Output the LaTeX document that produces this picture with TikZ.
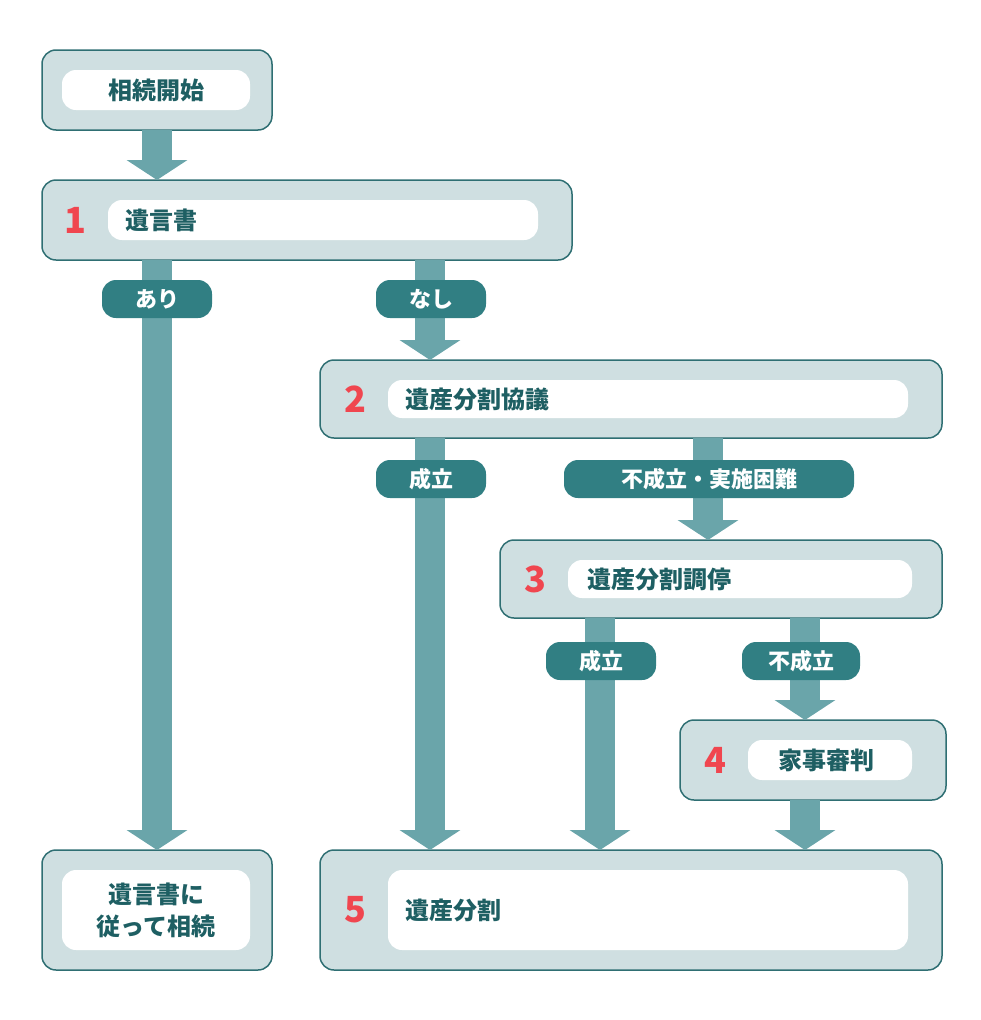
\documentclass[tikz,border=0pt]{standalone}
\usepackage{fontspec}
\setmainfont{Noto Sans CJK JP}
\usetikzlibrary{arrows.meta}
\definecolor{boxfill}{HTML}{CFDFE1}
\definecolor{boxline}{HTML}{2F6F73}
\definecolor{flow}{HTML}{6AA5AA}
\definecolor{tagfill}{HTML}{317F83}
\definecolor{txt}{HTML}{1E5F63}
\definecolor{num}{HTML}{F0464F}
\tikzset{
  box/.style={draw=boxline,line width=1.5pt,fill=boxfill,rounded corners=14pt},
  pill/.style={fill=white,rounded corners=14pt},
  word/.style={text=txt,font=\fontsize{24}{32}\selectfont\bfseries,align=center},
  stepno/.style={text=num,font=\fontsize{36}{36}\selectfont\bfseries},
  tag/.style={fill=tagfill,text=white,rounded corners=14pt,minimum height=38pt,
    font=\fontsize{22}{22}\selectfont\bfseries,inner xsep=14pt},
  flow/.style={draw=flow,line width=30pt,-{Triangle[width=60pt,length=20pt]}}
}
\begin{document}
\begin{tikzpicture}[x=1pt,y=-1pt]
   \useasboundingbox (0,0) rectangle (980,1020);
   % boxes
   \draw[box] (42,50) rectangle (272,130);
   \fill[pill] (62,70) rectangle (250,110);
   \node[word] (start) at (156,90) {相続開始};
   \draw[box] (42,180) rectangle (572,260);
   \fill[pill] (108,200) rectangle (538,240);
   \node[stepno] (n1) at (75,220) {1};
   \node[word,anchor=west] (will) at (122,220) {遺言書};
   \draw[box] (320,360) rectangle (942,438);
   \fill[pill] (388,380) rectangle (908,418);
   \node[stepno] (n2) at (355,399) {2};
   \node[word,anchor=west] (kyogi) at (402,399) {遺産分割協議};
   \draw[box] (500,540) rectangle (942,618);
   \fill[pill] (568,560) rectangle (912,598);
   \node[stepno] (n3) at (535,579) {3};
   \node[word,anchor=west] (chotei) at (584,579) {遺産分割調停};
   \draw[box] (680,720) rectangle (946,800);
   \fill[pill] (748,740) rectangle (912,780);
   \node[stepno] (n4) at (715,760) {4};
   \node[word] (shinpan) at (826,760) {家事審判};
   \draw[box] (42,850) rectangle (272,970);
   \fill[pill] (62,870) rectangle (250,950);
   \node[word] (follow) at (156,910) {遺言書に\\従って相続};
   \draw[box] (320,850) rectangle (942,970);
   \fill[pill] (388,870) rectangle (908,950);
   \node[stepno] (n5) at (355,910) {5};
   \node[word,anchor=west] (bunkatsu) at (402,910) {遺産分割};
   % arrows
   \coordinate (a0) at (157,130); \coordinate (b0) at (157,180);
   \coordinate (a1) at (157,260); \coordinate (b1) at (157,850);
   \coordinate (a2) at (430,260); \coordinate (b2) at (430,360);
   \coordinate (a3) at (430,438); \coordinate (b3) at (430,850);
   \coordinate (a4) at (708,438); \coordinate (b4) at (708,540);
   \coordinate (a5) at (600,618); \coordinate (b5) at (600,850);
   \coordinate (a6) at (805,618); \coordinate (b6) at (805,720);
   \coordinate (a7) at (805,800); \coordinate (b7) at (805,850);
   \foreach \i in {0,...,7}
     \draw[flow] (a\i) -- (b\i);
   % labels
   \node[tag,minimum width=110pt] (yes) at (157,299) {あり};
   \node[tag,minimum width=110pt] (no) at (431,299) {なし};
   \node[tag,minimum width=110pt] (ok1) at (431,479) {成立};
   \node[tag,minimum width=290pt] (ng1) at (709,479) {不成立・実施困難};
   \node[tag,minimum width=110pt] (ok2) at (601,661) {成立};
   \node[tag,minimum width=118pt] (ng2) at (801,661) {不成立};
\end{tikzpicture}
\end{document}
